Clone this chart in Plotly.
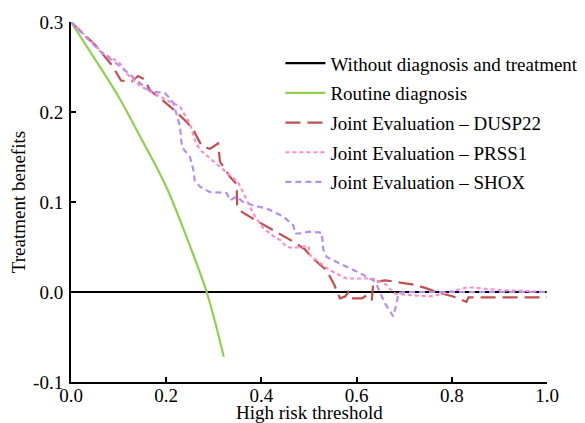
import plotly.graph_objects as go

# ---- data ----
base_x = [0.0, 1.0]
base_y = [0.0, 0.0]

routine_x = [0.0, 0.05, 0.10, 0.15, 0.20, 0.25, 0.285, 0.321]
routine_y = [0.300, 0.259, 0.217, 0.168, 0.117, 0.051, 0.000, -0.072]

dusp_x = [0.000, 0.050, 0.086, 0.105, 0.128, 0.141, 0.155, 0.166, 0.197, 0.215, 0.243, 0.257,
          0.275, 0.292, 0.309, 0.313, 0.334, 0.348, 0.349, 0.359, 0.387, 0.411, 0.446, 0.467,
          0.492, 0.509, 0.537, 0.553, 0.565, 0.576, 0.583, 0.590, 0.611, 0.621, 0.632, 0.635,
          0.660, 0.684, 0.723, 0.747, 0.768, 0.803, 0.831, 0.835, 1.000]
dusp_y = [0.300, 0.275, 0.252, 0.235, 0.234, 0.240, 0.236, 0.224, 0.211, 0.203, 0.189, 0.180,
          0.162, 0.159, 0.165, 0.145, 0.128, 0.120, 0.097, 0.089, 0.080, 0.073, 0.063, 0.056,
          0.047, 0.037, 0.024, 0.008, -0.007, -0.005, 0.000, -0.007, -0.007, -0.004, -0.009, 0.011,
          0.013, 0.011, 0.008, 0.004, 0.000, -0.005, -0.011, -0.006, -0.006]

prss_x = [0.000, 0.068, 0.099, 0.103, 0.120, 0.145, 0.187, 0.215, 0.229, 0.250, 0.260, 0.271,
          0.320, 0.327, 0.351, 0.376, 0.383, 0.404, 0.425, 0.439, 0.453, 0.467, 0.499, 0.502,
          0.534, 0.544, 0.579, 0.600, 0.628, 0.639, 0.656, 0.663, 0.677, 0.684, 0.726, 0.754,
          0.772, 0.803, 0.831, 0.845, 0.880, 0.900, 0.960, 1.000]
prss_y = [0.300, 0.265, 0.256, 0.254, 0.241, 0.229, 0.217, 0.210, 0.206, 0.187, 0.169, 0.158,
          0.136, 0.132, 0.122, 0.095, 0.087, 0.071, 0.062, 0.058, 0.050, 0.049, 0.051, 0.041,
          0.028, 0.024, 0.015, 0.015, 0.015, 0.014, 0.010, 0.008, -0.001, -0.002, -0.004, -0.005,
          -0.003, 0.001, 0.005, 0.005, 0.003, 0.002, 0.001, 0.000]

shox_x = [0.000, 0.060, 0.100, 0.130, 0.145, 0.166, 0.197, 0.208, 0.215, 0.229, 0.233, 0.250,
          0.257, 0.260, 0.271, 0.292, 0.327, 0.334, 0.348, 0.362, 0.383, 0.411, 0.425, 0.446,
          0.467, 0.471, 0.478, 0.502, 0.527, 0.530, 0.537, 0.579, 0.607, 0.635, 0.642, 0.660,
          0.677, 0.684, 0.688, 0.705, 1.000]
shox_y = [0.300, 0.268, 0.252, 0.238, 0.232, 0.223, 0.221, 0.215, 0.210, 0.184, 0.161, 0.150,
          0.136, 0.124, 0.117, 0.111, 0.110, 0.102, 0.106, 0.100, 0.096, 0.093, 0.089, 0.084,
          0.074, 0.065, 0.065, 0.067, 0.066, 0.047, 0.039, 0.028, 0.021, 0.013, 0.008, -0.013,
          -0.027, -0.013, -0.001, 0.000, 0.000]

x_ticks = [0.0, 0.2, 0.4, 0.6, 0.8, 1.0]
x_ticklabels = ["0.0", "0.2", "0.4", "0.6", "0.8", "1.0"]
y_ticks = [-0.1, 0.0, 0.1, 0.2, 0.3]
y_ticklabels = ["-0.1", "0.0", "0.1", "0.2", "0.3"]

names = ["Without diagnosis and treatment", "Routine diagnosis",
         "Joint Evaluation – DUSP22", "Joint Evaluation – PRSS1", "Joint Evaluation – SHOX"]
x_title = "High risk threshold"
y_title = "Treatment benefits"

FONT = "Liberation Serif, Times New Roman, serif"
FS = 19

fig = go.Figure()
series = [
    (base_x, base_y, "#000000", "solid", "linear"),
    (routine_x, routine_y, "#8fd14f", "solid", "spline"),
    (dusp_x, dusp_y, "#c0504d", "15px,7px", "linear"),
    (prss_x, prss_y, "#ff8ec8", "4px,3px", "linear"),
    (shox_x, shox_y, "#b48ef0", "6px,4px", "linear"),
]
for i, (xs, ys, col, dash, shape) in enumerate(series):
    fig.add_trace(go.Scatter(x=xs, y=ys, mode="lines", name=names[i],
                             line=dict(color=col, width=2.2, dash=dash, shape=shape),
                             legendgroup=f"g{i}"))

# page body has an 8px margin, so the figure is 8px smaller than the window
fig.update_layout(
    width=577, height=415,
    margin=dict(l=63, r=38, t=14, b=41, autoexpand=False),
    paper_bgcolor="white", plot_bgcolor="white",
    font=dict(family=FONT, size=FS, color="black"),
    showlegend=True,
    legend=dict(x=0.440, y=0.938, xanchor="left", yanchor="top",
                bgcolor="rgba(0,0,0,0)", font=dict(family=FONT, size=FS),
                tracegroupgap=2, itemwidth=40),
    xaxis=dict(range=[0, 1], tickvals=x_ticks, ticktext=x_ticklabels,
               showline=True, linecolor="black", linewidth=2,
               ticks="inside", ticklen=5, tickwidth=2, tickcolor="black",
               showgrid=False, zeroline=False, automargin=False,
               ticklabelstandoff=-5),
    yaxis=dict(range=[-0.1, 0.3], tickvals=y_ticks, ticktext=y_ticklabels,
               showline=True, linecolor="black", linewidth=2,
               ticks="inside", ticklen=5, tickwidth=2, tickcolor="black",
               showgrid=False, zeroline=False, automargin=False,
               ticklabelstandoff=2),
    annotations=[
        dict(text=x_title, xref="paper", yref="paper", x=0.5, y=-0.085,
             xanchor="center", yanchor="middle", showarrow=False,
             font=dict(family=FONT, size=FS)),
        dict(text=y_title, xref="paper", yref="paper", x=-0.111, y=0.5,
             xanchor="center", yanchor="middle", showarrow=False, textangle=-90,
             font=dict(family=FONT, size=FS)),
    ],
)

fig.write_html("out.html")
